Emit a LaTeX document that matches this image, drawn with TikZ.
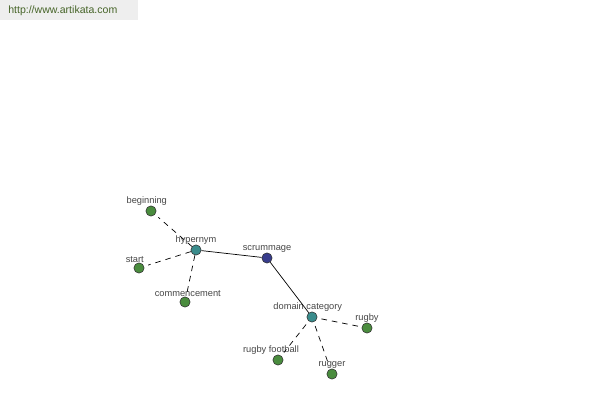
\documentclass[tikz,border=0pt]{standalone}
\usepackage{fontspec}
\setmainfont{Liberation Sans}
\usepackage{xcolor}
\usetikzlibrary{positioning}

\definecolor{leafgreen}{RGB}{74,140,62}
\definecolor{hubteal}{RGB}{58,140,140}
\definecolor{rootblue}{RGB}{56,60,140}
\definecolor{lblgray}{RGB}{70,70,70}
\definecolor{urlgreen}{RGB}{70,100,40}
\definecolor{urlback}{RGB}{238,238,238}

\tikzset{
  word/.style={circle, draw=black!80, line width=0.4pt, minimum size=7.3pt, inner sep=0pt},
  leaf/.style={word, fill=leafgreen},
  hub/.style={word, fill=hubteal},
  root/.style={word, fill=rootblue},
  lbl/.style={text=lblgray, font=\fontsize{6.6}{7}\selectfont, inner sep=1pt},
  label distance=-1.2pt,
  rel/.style={draw=black, line width=0.5pt},
  syn/.style={rel, dash pattern=on 4pt off 3.5pt}
}

\begin{document}
\begin{tikzpicture}[x=0.025cm, y=-0.025cm]

        \useasboundingbox (0,0) rectangle (600,400);
        \fill[urlback] (0,0) rectangle (138,20);
        \node[text=urlgreen, font=\fontsize{7.5}{8}\selectfont, anchor=west, inner sep=0pt] (url) at (8,11) {http://www.artikata.com};

        \node[root, label={[lbl]above:scrummage}] (scrummage) at (267,258) {};
        \node[hub, label={[lbl]above:hypernym}] (hypernym) at (196,250) {};
        \node[hub, label={[lbl, xshift=-3pt]above:domain category}] (domain) at (312,317) {};

        \node[leaf, label={[lbl, xshift=-3pt]above:beginning}] (beginning) at (151,211) {};
        \node[leaf, label={[lbl, xshift=-3pt]above:start}] (start) at (139,268) {};
        \node[leaf, label={[lbl, xshift=2pt]above:commencement}] (commencement) at (185,302) {};
        \node[leaf, label={[lbl]above:rugby}] (rugby) at (367,328) {};
        \node[leaf, label={[lbl, xshift=-5pt]above:rugby football}] (football) at (278,360) {};
        \node[leaf, label={[lbl]above:rugger}] (rugger) at (332,374) {};

		\path[rel] 
        (hypernym) edge (scrummage)
        (scrummage) edge (domain);

		\path[syn] 
        (hypernym) edge[shorten >=3pt] (beginning)
        (hypernym) edge[shorten >=3pt] (start)
        (hypernym) edge[shorten >=3pt] (commencement)
        (domain) edge[shorten <=3pt, shorten >=2pt] (rugby)
        (domain) edge[shorten <=3pt, shorten >=3pt] (football)
        (domain) edge[shorten <=3pt, shorten >=2pt] (rugger);
    \end{tikzpicture}
\end{document}
